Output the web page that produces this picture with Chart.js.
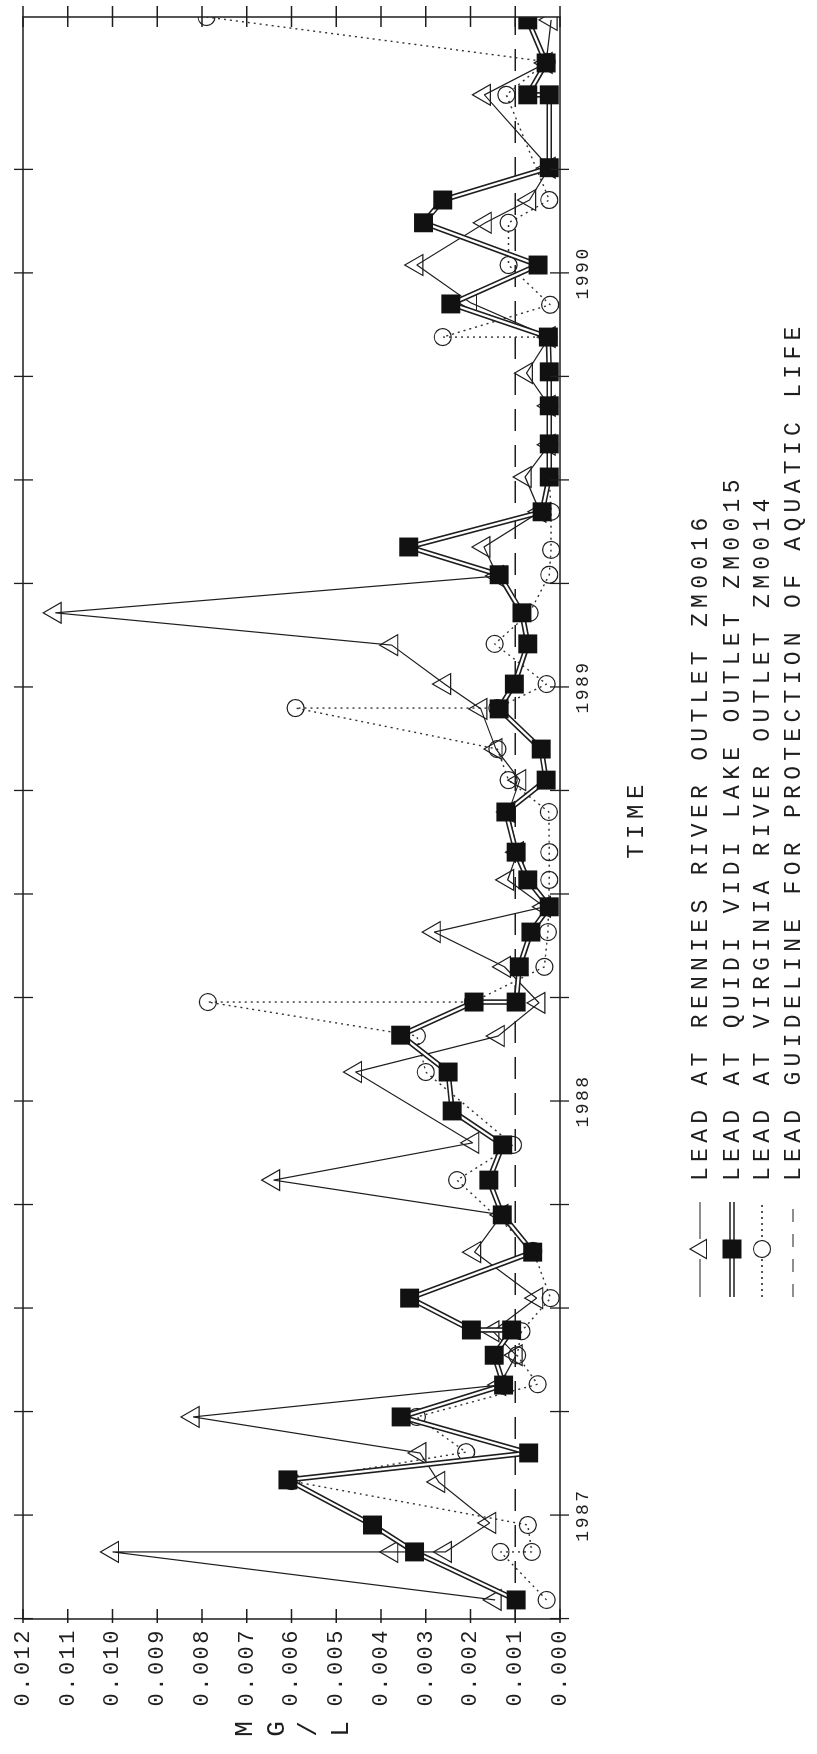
<!DOCTYPE html>
<html><head><meta charset="utf-8">
<script src="https://cdn.jsdelivr.net/npm/chart.js@4.4.1/dist/chart.umd.min.js"></script>
<style>
html,body{margin:0;padding:0;background:#fff;width:817px;height:1754px;overflow:hidden;}
#wrap{position:absolute;left:0;top:0;width:1754px;height:817px;transform-origin:0 0;transform:translate(0px,1754px) rotate(-90deg);background:#fff;}
canvas{display:block;}
</style></head><body>
<div id="wrap"><canvas id="c" width="1754" height="817"></canvas></div>
<script>
// ---------- data (decimal years, mg/L) ----------
const timeMin = 1986.749;
const timeMax = 1990.618;
const timeTicks = [1986.75,1987,1987.25,1987.5,1987.75,1988,1988.25,1988.5,1988.75,1989,1989.25,1989.5,1989.75,1990,1990.25];
const yearLabels = [1987,1988,1989,1990];
const leadTicks = [0,0.001,0.002,0.003,0.004,0.005,0.006,0.007,0.008,0.009,0.010,0.011,0.012];
const guidelineLead = 0.001;

const renniesDates = [1986.795,1986.911,1986.911,1986.911,1986.981,1987.080,1987.150,1987.237,1987.314,1987.386,1987.444,1987.524,1987.635,1987.725,1987.809,1987.899,1988.070,1988.157,1988.237,1988.324,1988.408,1988.469,1988.534,1988.601,1988.698,1988.775,1988.850,1988.947,1989.007,1989.101,1989.179,1989.268,1989.338,1989.423,1989.507,1989.585,1989.679,1989.758,1989.845,1989.928,1990.019,1990.121,1990.176,1990.254,1990.430,1990.507,1990.611];
const renniesLead  = [0.00145,0.01000,0.00376,0.00256,0.00157,0.00271,0.00313,0.00820,0.00135,0.00098,0.00150,0.00052,0.00191,0.00130,0.00640,0.00195,0.00457,0.00138,0.00047,0.00124,0.00281,0.00035,0.00117,0.00095,0.00115,0.00090,0.00143,0.00177,0.00258,0.00376,0.01128,0.00140,0.00170,0.00045,0.00078,0.00024,0.00024,0.00075,0.00024,0.00200,0.00320,0.00167,0.00068,0.00024,0.00169,0.00031,0.00020];

const quidiDates = [1986.795,1986.911,1986.976,1987.085,1987.150,1987.237,1987.314,1987.386,1987.447,1987.447,1987.524,1987.635,1987.725,1987.809,1987.894,1987.976,1988.070,1988.159,1988.239,1988.239,1988.324,1988.408,1988.469,1988.534,1988.601,1988.698,1988.775,1988.850,1988.947,1989.007,1989.104,1989.179,1989.271,1989.338,1989.423,1989.507,1989.587,1989.679,1989.761,1989.845,1989.925,1990.019,1990.121,1990.176,1990.254,1990.430,1990.430,1990.507,1990.611];
const quidiLead  = [0.00098,0.00325,0.00419,0.00608,0.00070,0.00355,0.00126,0.00147,0.00108,0.00198,0.00336,0.00061,0.00129,0.00159,0.00128,0.00241,0.00250,0.00356,0.00192,0.00098,0.00091,0.00065,0.00024,0.00072,0.00098,0.00121,0.00031,0.00042,0.00136,0.00102,0.00072,0.00085,0.00136,0.00338,0.00040,0.00024,0.00024,0.00024,0.00024,0.00026,0.00244,0.00049,0.00305,0.00262,0.00024,0.00024,0.00072,0.00031,0.00072];

const virginiaDates = [1986.795,1986.911,1986.911,1986.976,1987.082,1987.152,1987.237,1987.316,1987.386,1987.444,1987.524,1987.638,1987.809,1987.894,1988.070,1988.157,1988.239,1988.239,1988.324,1988.408,1988.534,1988.601,1988.698,1988.775,1988.850,1988.949,1988.949,1989.007,1989.104,1989.179,1989.271,1989.331,1989.423,1989.507,1989.585,1989.679,1989.761,1989.845,1989.845,1989.923,1990.019,1990.121,1990.176,1990.430,1990.510,1990.618];
const virginiaLead  = [0.00030,0.00133,0.00063,0.00072,0.00600,0.00210,0.00320,0.00050,0.00096,0.00086,0.00021,0.00060,0.00230,0.00105,0.00300,0.00320,0.00787,0.00195,0.00035,0.00027,0.00024,0.00024,0.00025,0.00115,0.00140,0.00591,0.00140,0.00030,0.00146,0.00068,0.00024,0.00020,0.00020,0.00024,0.00024,0.00024,0.00024,0.00026,0.00262,0.00022,0.00115,0.00115,0.00024,0.00120,0.00030,0.00790];

const legendLabels = [
  'LEAD AT RENNIES RIVER OUTLET ZM0016',
  'LEAD AT QUIDI VIDI LAKE OUTLET ZM0015',
  'LEAD AT VIRGINIA RIVER OUTLET ZM0014',
  'LEAD GUIDELINE FOR PROTECTION OF AQUATIC LIFE'
];
const xTitle = 'TIME';
const yTitle = ['M','G','/','L'];

// ---------- drawing ----------
const INK = '#1e1e1e';
const FONT = '"Liberation Mono", "DejaVu Sans Mono", monospace';
const pts = (d, v) => d.map((t, i) => ({x: t, y: v[i]}));
const quidiPts = pts(quidiDates, quidiLead);

function tri(ctx, x, y, r) {
  let rad = 0;
  ctx.beginPath();
  for (let k = 0; k < 3; k++) {
    const px = x + Math.sin(rad) * r, py = y - Math.cos(rad) * r;
    if (k === 0) ctx.moveTo(px, py); else ctx.lineTo(px, py);
    rad += 2 * Math.PI / 3;
  }
  ctx.closePath();
  ctx.stroke();
}

const frame = {
  id: 'frame',
  beforeDraw(chart) {
    const ctx = chart.ctx;
    ctx.save();
    ctx.fillStyle = '#fff';
    ctx.fillRect(0, 0, chart.width, chart.height);
    ctx.restore();
    ctx.letterSpacing = '2.5px';
  },
  afterDraw(chart) {
    const ctx = chart.ctx, a = chart.chartArea, xs = chart.scales.x, ys = chart.scales.y;
    ctx.save();
    ctx.letterSpacing = '0px';
    ctx.strokeStyle = INK;
    ctx.lineWidth = 1.5;
    ctx.strokeRect(a.left, a.top, a.right - a.left, a.bottom - a.top);
    ctx.lineWidth = 1.3;
    ctx.beginPath();
    timeTicks.forEach(t => {
      const px = xs.getPixelForValue(t);
      ctx.moveTo(px, a.bottom - 10); ctx.lineTo(px, a.bottom + 9);
      ctx.moveTo(px, a.top - 9); ctx.lineTo(px, a.top + 10);
    });
    leadTicks.forEach(v => {
      const py = ys.getPixelForValue(v);
      ctx.moveTo(a.left - 4, py); ctx.lineTo(a.left + 10, py);
      ctx.moveTo(a.right - 10, py); ctx.lineTo(a.right + 11, py);
    });
    ctx.stroke();

    // axis titles
    ctx.fillStyle = INK;
    ctx.textBaseline = 'middle';
    ctx.textAlign = 'center';
    ctx.font = '24px ' + FONT;
    ctx.letterSpacing = '5.5px';
    ctx.fillText(xTitle, 932 + 3, 637);
    ctx.letterSpacing = '0px';
    ctx.font = '26px ' + FONT;
    const yc = (a.top + a.bottom) / 2 + 2;
    yTitle.forEach((ch, i) => ctx.fillText(ch, 25, yc + (i - 1.5) * 32));

    // legend
    const rows = [700, 732, 762, 793];
    const x0 = 457, x1 = 552, xm = 505, tx = 573;
    ctx.lineWidth = 1.2;
    ctx.beginPath(); ctx.moveTo(x0, rows[0]); ctx.lineTo(x1, rows[0]); ctx.stroke();
    ctx.fillStyle = '#fff';
    ctx.beginPath(); ctx.rect(xm - 10, rows[0] - 11, 20, 18); ctx.fill();
    ctx.fillStyle = INK;
    tri(ctx, xm, rows[0] + 1, 11);
    ctx.lineWidth = 5.5; ctx.strokeStyle = INK;
    ctx.beginPath(); ctx.moveTo(x0, rows[1]); ctx.lineTo(x1, rows[1]); ctx.stroke();
    ctx.lineWidth = 2.3; ctx.strokeStyle = '#fff';
    ctx.beginPath(); ctx.moveTo(x0, rows[1]); ctx.lineTo(x1, rows[1]); ctx.stroke();
    ctx.fillStyle = '#111';
    ctx.fillRect(xm - 9.5, rows[1] - 9.5, 19, 19);
    ctx.strokeStyle = INK; ctx.lineWidth = 1.4; ctx.setLineDash([2, 4]);
    ctx.beginPath(); ctx.moveTo(x0, rows[2]); ctx.lineTo(x1, rows[2]); ctx.stroke();
    ctx.setLineDash([]);
    ctx.fillStyle = '#fff';
    ctx.beginPath(); ctx.arc(xm, rows[2], 8.5, 0, Math.PI * 2); ctx.fill();
    ctx.lineWidth = 1.2; ctx.stroke();
    ctx.setLineDash([13, 12]);
    ctx.beginPath(); ctx.moveTo(x0, rows[3]); ctx.lineTo(x1, rows[3]); ctx.stroke();
    ctx.setLineDash([]);
    ctx.fillStyle = INK;
    ctx.textAlign = 'left';
    ctx.font = '23px ' + FONT;
    ctx.letterSpacing = '5.3px';
    legendLabels.forEach((s, i) => ctx.fillText(s, tx, rows[i] + 1));
    ctx.restore();
  }
};

new Chart(document.getElementById('c'), {
  type: 'line',
  data: {
    datasets: [
      { label: 'guideline', data: [{x: timeMin, y: guidelineLead}, {x: timeMax, y: guidelineLead}],
        borderColor: INK, borderWidth: 1.3, borderDash: [22, 14], pointRadius: 0, order: 10 },
      { label: legendLabels[2], data: pts(virginiaDates, virginiaLead),
        borderColor: '#333', borderWidth: 1.4, borderDash: [2, 4], borderJoinStyle: 'bevel',
        pointStyle: 'circle', pointRadius: 8.5, pointBorderWidth: 1.2,
        pointBackgroundColor: 'rgba(0,0,0,0)', pointBorderColor: INK, order: 5 },
      { label: legendLabels[0], data: pts(renniesDates, renniesLead),
        borderColor: INK, borderWidth: 1.2, borderJoinStyle: 'bevel',
        pointStyle: 'triangle', pointRadius: 12, pointBorderWidth: 1.2,
        pointBackgroundColor: 'rgba(0,0,0,0)', pointBorderColor: INK, order: 4 },
      { label: 'quidi-outer', data: quidiPts, borderColor: INK, borderWidth: 5.5,
        borderJoinStyle: 'bevel', pointRadius: 0, order: 3 },
      { label: 'quidi-core', data: quidiPts, borderColor: '#fff', borderWidth: 2.3,
        borderJoinStyle: 'bevel', pointRadius: 0, order: 2 },
      { label: legendLabels[1], data: quidiPts, showLine: false,
        pointStyle: 'rect', pointRadius: 13.4, pointBorderWidth: 0,
        pointBackgroundColor: '#111', pointBorderColor: '#111', order: 1 }
    ]
  },
  options: {
    responsive: false,
    animation: false,
    devicePixelRatio: 1,
    events: [],
    layout: { padding: { top: 23, right: 17, bottom: 0, left: 0 } },
    plugins: { legend: { display: false }, tooltip: { enabled: false } },
    scales: {
      x: {
        type: 'linear', position: 'bottom', min: timeMin, max: timeMax,
        afterBuildTicks: s => { s.ticks = timeTicks.map(v => ({ value: v })); },
        afterFit: s => { s.height = 257; },
        grid: { display: false, drawTicks: false },
        border: { display: false },
        ticks: {
          autoSkip: false, maxRotation: 0, minRotation: 0, padding: 12,
          color: INK, font: { family: FONT, size: 18 },
          callback: v => yearLabels.includes(Math.round(v * 1000) / 1000) ? String(Math.round(v)) : ''
        }
      },
      y: {
        type: 'linear', position: 'left', min: 0, max: 0.012,
        afterBuildTicks: s => { s.ticks = leadTicks.map(v => ({ value: v })); },
        afterFit: s => { s.width = 135; },
        grid: { display: false, drawTicks: false },
        border: { display: false },
        ticks: {
          autoSkip: false, padding: 9, color: INK,
          font: { family: FONT, size: 22 },
          callback: v => v.toFixed(3)
        }
      }
    }
  },
  plugins: [frame]
});
</script>
</body></html>
